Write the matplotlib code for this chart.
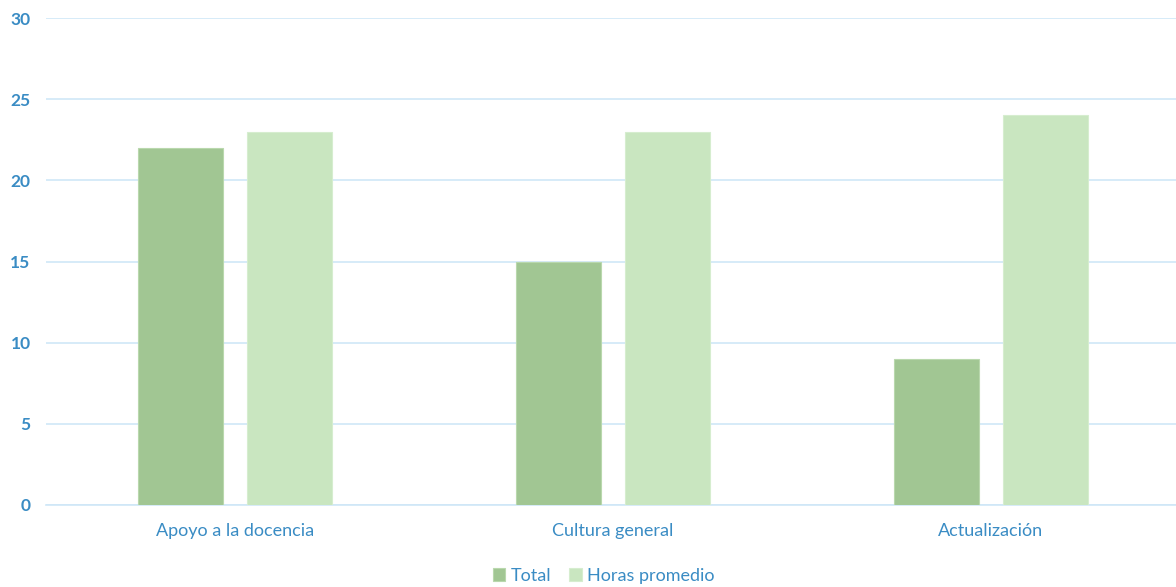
import numpy as np
import matplotlib.pyplot as plt

categories = ["Apoyo a la docencia", "Cultura general", "Actualización"]
total = [22, 15, 9]
horas_promedio = [23, 23, 24]

TEXT_COLOR = "#3A8CC4"
GRID_COLOR = "#CFE7F7"
C_TOTAL = "#A1C693"
C_HORAS = "#C9E6C0"

plt.rcParams["font.family"] = ["Lato", "DejaVu Sans"]

fig = plt.figure(figsize=(11.76, 5.87), dpi=100)
ax = fig.add_axes([0.039, 0.1397, 0.9643, 0.8296])

x = np.arange(len(categories))
w = 0.225
off = 0.1435
ax.bar(x - off, total, width=w, color=C_TOTAL, edgecolor="#B9D8AD", linewidth=0.8,
       label="Total", zorder=3)
ax.bar(x + off, horas_promedio, width=w, color=C_HORAS, edgecolor="#D6EDCF", linewidth=0.8,
       label="Horas promedio", zorder=3)

ax.set_xlim(-0.5, len(categories) - 0.5)
ax.set_ylim(0, 30)
ax.set_yticks(range(0, 31, 5))
ax.set_xticks(x)
ax.set_xticklabels(categories)
ax.yaxis.grid(True, color=GRID_COLOR, linewidth=1.2, zorder=0)
ax.set_axisbelow(True)

for s in ["top", "right", "left"]:
    ax.spines[s].set_visible(False)
ax.spines["bottom"].set_color(GRID_COLOR)
ax.spines["bottom"].set_linewidth(1.2)

ax.tick_params(axis="y", length=0, pad=11, labelsize=12.5, labelcolor=TEXT_COLOR)
ax.tick_params(axis="x", length=0, pad=13, labelsize=13, labelcolor=TEXT_COLOR)
for t in ax.get_yticklabels():
    t.set_fontweight("bold")

leg = ax.legend(loc="upper center", bbox_to_anchor=(0.492, -0.095), ncol=2, frameon=False,
                handlelength=0.7, handleheight=0.7, handletextpad=0.3, columnspacing=1.0,
                fontsize=13)
for t in leg.get_texts():
    t.set_color(TEXT_COLOR)

fig.savefig("out.png", dpi=100)
